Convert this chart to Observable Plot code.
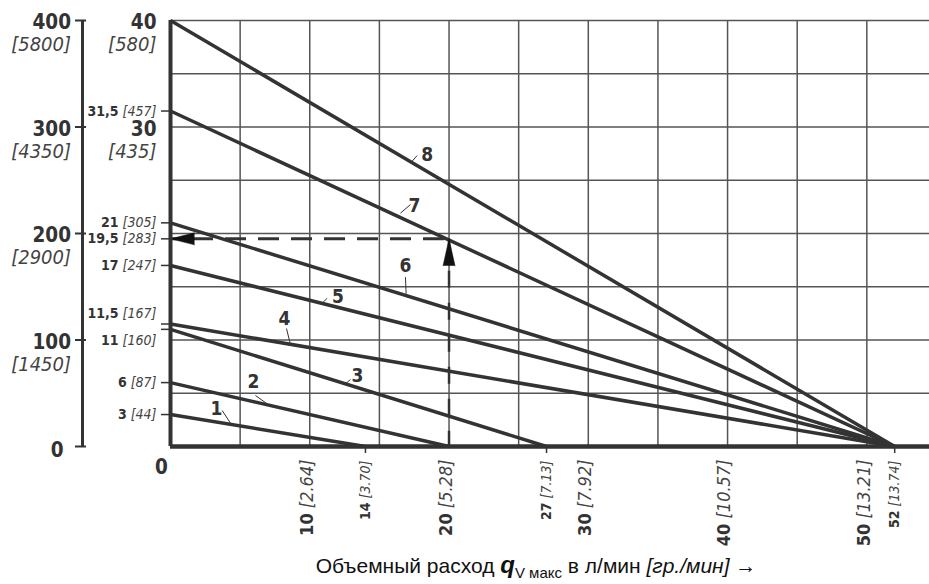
<!DOCTYPE html>
<html><head><meta charset="utf-8">
<script src="https://cdn.jsdelivr.net/npm/d3@7"></script>
<script src="https://cdn.jsdelivr.net/npm/@observablehq/plot@0.6"></script>
<style>
html,body{margin:0;padding:0;background:#fff;}
</style></head><body><div id="chart"></div>
<script>
// ---- data ----
const lineNames = ["1","2","3","4","5","6","7","8"];
const startPressure = [3, 6, 11, 11.5, 17, 21, 31.5, 40];   // bar at q = 0
const endFlow       = [14, 20, 27, 52, 52, 52, 52, 52];     // l/min at p = 0

const gridX = [5,10,15,20,25,30,35,40,45,50];
const gridY = [5,10,15,20,25,30,35,40];

const outerTicks = [0,100,200,300,400];
const outerPsi   = ["","[1450]","[2900]","[4350]","[5800]"];
const innerMajor = [40,30];
const innerMajorPsi = ["[580]","[435]"];
const innerMinor = [31.5,21,19.5,17,11.5,11,6,3];
const innerMinorText = ["31,5","21","19,5","17","11,5","11","6","3"];
const innerMinorPsi  = ["[457]","[305]","[283]","[247]","[167]","[160]","[87]","[44]"];

const xMajor = [10,20,30,40,50];
const xMajorGpm = ["[2.64]","[5.28]","[7.92]","[10.57]","[13.21]"];
const xMinor = [14,27,52];
const xMinorGpm = ["[3.70]","[7.13]","[13.74]"];

const readFlow = 20, readPressure = 19.5;

// curve labels (text position, leader start, leader end)
const labelX  = [3.30, 5.96, 13.42, 8.18, 12.02, 16.87, 17.52, 18.43];
const labelY  = [3.57, 6.10, 6.67, 12.02, 14.04, 16.95, 22.58, 27.42];
const leadX1  = [3.71, 6.10, 12.92, 8.33, 11.25, 16.87, 17.23, 17.71];
const leadY1  = [3.38, 4.79, 6.29, 11.08, 13.92, 15.90, 22.72, 27.32];
const leadX2  = [4.31, 6.94, 12.56, 8.61, 10.89, 16.92, 16.51, 17.35];
const leadY2  = [2.19, 4.01, 5.88, 9.58, 13.45, 14.34, 21.91, 26.79];

const title = "Объемный расход |q|V макс| в л/мин |[гр./мин]| →";

// ---- tables ----
const segments = lineNames.map((n,i)=>({name:n, x1:0, y1:startPressure[i], x2:endFlow[i], y2:0}));
const labels = lineNames.map((n,i)=>({name:n, x:labelX[i], y:labelY[i], x1:leadX1[i], y1:leadY1[i], x2:leadX2[i], y2:leadY2[i]}));
const outer = outerTicks.map((v,i)=>({v, psi:outerPsi[i]}));
const innerBig = innerMajor.map((v,i)=>({v, psi:innerMajorPsi[i]}));
const innerSmall = innerMinor.map((v,i)=>({v, t:innerMinorText[i]+"|"+innerMinorPsi[i]}));
const xBig = xMajor.map((v,i)=>({v, t:v+"|"+xMajorGpm[i]}));
const xSmall = xMinor.map((v,i)=>({v, t:v+"|"+xMinorGpm[i]}));

const F = "'DejaVu Sans Condensed','Liberation Sans Narrow','Roboto Condensed','DejaVu Sans',sans-serif";
const INK = "#333";
const GRID = "#555";

const chart = Plot.plot({
  width: 929, height: 584,
  marginLeft: 170, marginRight: 0, marginTop: 20, marginBottom: 138,
  x: {domain: [0, 54.5], axis: null},
  y: {domain: [0, 40], axis: null},
  style: {fontFamily: F, color: INK, background: "white", overflow: "visible"},
  marks: [
    Plot.ruleX(gridX, {stroke: GRID, strokeWidth: 1.5}),
    Plot.ruleY(gridY, {stroke: GRID, strokeWidth: 1.5}),
    // outer scale axis
    Plot.ruleX([0], {y1: 0, y2: 40, dx: -88, stroke: INK, strokeWidth: 3}),
    Plot.axisY({ticks: outerTicks.map(d => d/10), tickSize: 11, dx: -84, strokeWidth: 2, tickFormat: () => "", label: null}),
    // inner ticks
    Plot.axisY({ticks: innerMinor, tickSize: 9, strokeWidth: 1.5, tickFormat: () => "", label: null}),
    Plot.axisX({ticks: xMinor, tickSize: 7, strokeWidth: 1.5, tickFormat: () => "", label: null}),
    // characteristic lines
    Plot.link(segments, {x1: "x1", y1: "y1", x2: "x2", y2: "y2", stroke: INK, strokeWidth: 3.5}),
    // reading example
    Plot.link([{x1: readFlow, y1: readPressure, x2: 0, y2: readPressure}], {x1:"x1", y1:"y1", x2:"x2", y2:"y2", stroke: INK, strokeWidth: 3, strokeDasharray: "21,12", strokeDashoffset: 28}),
    Plot.link([{x1: readFlow, y1: readPressure, x2: readFlow, y2: 0}], {x1:"x1", y1:"y1", x2:"x2", y2:"y2", stroke: INK, strokeWidth: 2.5, strokeDasharray: "17,15"}),
    Plot.vector([{x: 0, y: readPressure}], {x: "x", y: "y", length: 24, rotate: -90, r: 6, shape: "spike", anchor: "end", fill: "#111", stroke: "#111", strokeWidth: 0.5}),
    Plot.vector([{x: readFlow, y: readPressure}], {x: "x", y: "y", length: 27, rotate: 0, r: 6, shape: "spike", anchor: "end", fill: "#111", stroke: "#111", strokeWidth: 0.5}),
    // main axes
    Plot.ruleX([0], {stroke: INK, strokeWidth: 4}),
    Plot.ruleY([0], {stroke: INK, strokeWidth: 4.5}),
    // curve labels
    Plot.link(labels, {x1: "x1", y1: "y1", x2: "x2", y2: "y2", stroke: INK, strokeWidth: 1}),
    Plot.text(labels, {x: "x", y: "y", text: "name", fontSize: 19, fontWeight: "bold", fill: INK}),
    // outer axis labels
    Plot.text(outer, {filter: d => d.v !== 0, x: 0, y: d => d.v/10, text: d => String(d.v), textAnchor: "end", dx: -99.5, dy: 2, fontSize: 20.5, fontWeight: "bold", fill: INK}),
    Plot.text(outer, {filter: d => d.v === 0, x: 0, y: d => d.v/10, text: d => String(d.v), textAnchor: "end", dx: -107, dy: 3.5, fontSize: 20.5, fontWeight: "bold", fill: INK}),
    Plot.text(outer, {filter: d => d.psi !== "", x: 0, y: d => d.v/10, text: "psi", textAnchor: "end", dx: -99.5, dy: 24.5, fontSize: 20, fontStyle: "italic", fill: "#444"}),
    // inner major labels
    Plot.text(innerBig, {x: 0, y: "v", text: d => String(d.v), textAnchor: "end", dx: -14, dy: 2, fontSize: 20.5, fontWeight: "bold", fill: INK}),
    Plot.text(innerBig, {x: 0, y: "v", text: "psi", textAnchor: "end", dx: -14, dy: 24.5, fontSize: 20, fontStyle: "italic", fill: "#444"}),
    // inner minor labels
    Plot.text(innerSmall, {filter: d => d.v !== 11.5 && d.v !== 11, x: 0, y: "v", text: "t", textAnchor: "end", dx: -14, fontSize: 14, fill: INK}),
    Plot.text(innerSmall, {filter: d => d.v === 11.5, x: 0, y: "v", text: "t", textAnchor: "end", dx: -14, dy: -11, fontSize: 14, fill: INK}),
    Plot.text(innerSmall, {filter: d => d.v === 11, x: 0, y: "v", text: "t", textAnchor: "end", dx: -14, dy: 11, fontSize: 14, fill: INK}),
    // x labels
    Plot.text([0], {x: d => d, y: 0, text: d => String(d), dx: -9, dy: 21, fontSize: 20.5, fontWeight: "bold", fill: INK}),
    Plot.text(xBig, {x: "v", y: 0, text: "t", rotate: -90, textAnchor: "end", dx: -3, dy: 13, fontSize: 18, fill: INK}),
    Plot.text(xSmall, {x: "v", y: 0, text: "t", rotate: -90, textAnchor: "end", dy: 14, fontSize: 14, fill: INK}),
    // x title
    Plot.text([title], {frameAnchor: "bottom", lineAnchor: "middle", dy: 120, dx: -14, fontSize: 21, fill: "#111", fontFamily: "'Liberation Sans',Arial,sans-serif"})
  ]
});

function tspan(txt, attrs) {
  const t = document.createElementNS("http://www.w3.org/2000/svg", "tspan");
  t.textContent = txt;
  for (const k in attrs) t.setAttribute(k, attrs[k]);
  return t;
}
chart.querySelectorAll("text").forEach(el => {
  const s = el.textContent;
  if (!s.includes("|")) return;
  const p = s.split("|");
  el.textContent = "";
  if (p.length === 2) {
    el.appendChild(tspan(p[0], {"font-weight": "bold"}));
    el.appendChild(tspan("\u00a0" + p[1], {"font-style": "italic", "fill": "#444"}));
  } else {
    el.appendChild(tspan(p[0], {}));
    el.appendChild(tspan(p[1], {"font-weight": "bold", "font-style": "italic", "font-size": "24"}));
    el.appendChild(tspan(p[2], {"font-size": "15", "dy": "5"}));
    el.appendChild(tspan(p[3], {"dy": "-5"}));
    el.appendChild(tspan(p[4], {"font-style": "italic"}));
    el.appendChild(tspan(p[5], {}));
  }
});
document.getElementById("chart").appendChild(chart);
</script>
</body></html>
